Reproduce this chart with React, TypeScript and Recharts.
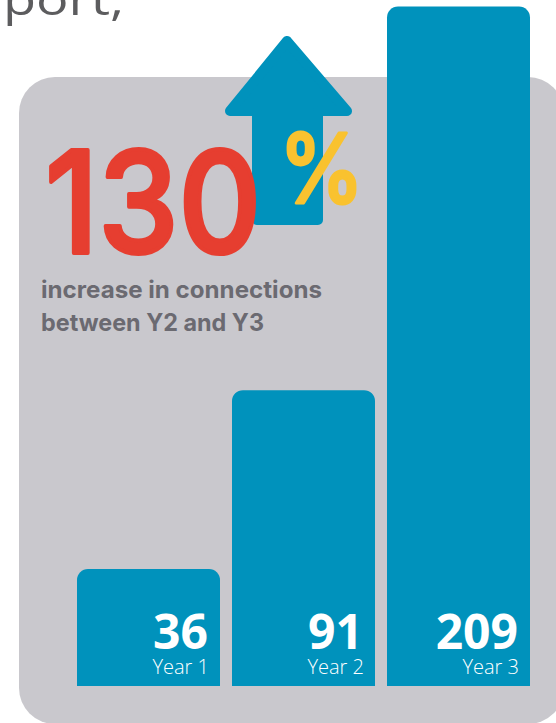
import React from "react";
import { BarChart, Bar, XAxis, YAxis, LabelList } from "recharts";

const YEARS = ["Year 1", "Year 2", "Year 3"];
const CONNECTIONS = [36, 91, 209];
const Y_MAX = 211;

const HEADLINE = "130";
const SUBTITLE = ["increase in connections", "between Y2 and Y3"];
const TOP_TEXT = "port,";

const data = YEARS.map((year, i) => ({ year, connections: CONNECTIONS[i] }));

const W = 556;
const H = 723;
const BLUE = "#0092bc";
const PANEL = "#c9c8cd";
const RED = "#e63e30";
const YELLOW = "#f9c22f";
const GREY_TEXT = "#6b6a71";

const ValueLabel = (props: any) => {
  const { x, y, width, height, value } = props;
  return (
    <text
      x={x + width - 12}
      y={y + height - 37}
      textAnchor="end"
      fill="#ffffff"
      fontFamily="'Open Sans', sans-serif"
      fontWeight={700}
      fontSize={48}
    >
      {value}
    </text>
  );
};

const YearLabel = (props: any) => {
  const { x, y, width, height, value } = props;
  return (
    <text
      x={x + width - 11}
      y={y + height - 12}
      textAnchor="end"
      fill="#ffffff"
      fontFamily="'Open Sans', sans-serif"
      fontWeight={300}
      fontSize={20}
    >
      {value}
    </text>
  );
};

export default function App() {
  return (
    <div
      style={{
        position: "absolute",
        left: 0,
        top: 0,
        width: W,
        height: H,
        overflow: "hidden",
        background: "#ffffff",
      }}
    >
      {/* grey card + arrow behind the bars */}
      <svg width={W} height={H} style={{ position: "absolute", left: 0, top: 0 }}>
        <rect x={19} y={77} width={545} height={647} rx={36} fill={PANEL} />
        <path
          d="M287 41 L347 111 L318 111 L318 220 L257 220 L257 111 L230 111 Z"
          fill={BLUE}
          stroke={BLUE}
          strokeWidth={10}
          strokeLinejoin="round"
        />
      </svg>

      <div style={{ position: "absolute", left: 0, top: 0 }}>
        <BarChart
          width={W}
          height={H}
          data={data}
          margin={{ top: 0, right: 20, bottom: 37, left: 71 }}
        >
          <XAxis dataKey="year" hide />
          <YAxis hide domain={[0, Y_MAX]} />
          <Bar
            dataKey="connections"
            fill={BLUE}
            barSize={143}
            radius={[11, 11, 0, 0]}
            isAnimationActive={false}
          >
            <LabelList dataKey="connections" content={<ValueLabel />} />
            <LabelList dataKey="year" content={<YearLabel />} />
          </Bar>
        </BarChart>
      </div>

      {/* headline texts */}
      <svg
        width={W}
        height={H}
        style={{ position: "absolute", left: 0, top: 0, pointerEvents: "none" }}
      >
        <text
          x={3}
          y={15}
          fill="#5c5c5e"
          fontFamily="'Open Sans', sans-serif"
          fontSize={44}
          textLength={121}
          lengthAdjust="spacingAndGlyphs"
        >
          {TOP_TEXT}
        </text>
        <text
          x={45}
          y={253}
          fill={RED}
          stroke={RED}
          strokeWidth={4}
          strokeLinejoin="round"
          fontFamily="Inter, sans-serif"
          fontWeight={500}
          fontSize={141}
          textLength={216}
          lengthAdjust="spacingAndGlyphs"
        >
          {HEADLINE}
        </text>
        <text
          x={279}
          y={203}
          fill={YELLOW}
          stroke={YELLOW}
          strokeWidth={3}
          strokeLinejoin="round"
          fontFamily="Inter, sans-serif"
          fontWeight={500}
          fontSize={96}
          textLength={85}
          lengthAdjust="spacingAndGlyphs"
        >
          %
        </text>
        {SUBTITLE.map((line, i) => (
          <text
            key={line}
            x={41}
            y={298 + i * 33}
            fill={GREY_TEXT}
            fontFamily="Inter, sans-serif"
            fontWeight={700}
            fontSize={24}
            textLength={i === 0 ? 281 : 223}
            lengthAdjust="spacingAndGlyphs"
          >
            {line}
          </text>
        ))}
      </svg>
    </div>
  );
}
